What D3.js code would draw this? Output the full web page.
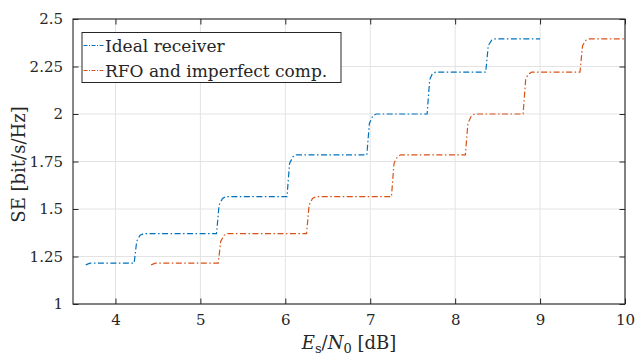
<!DOCTYPE html>
<html>
<head>
<meta charset="utf-8">
<script src="https://cdn.jsdelivr.net/npm/d3@7"></script>
<style>
  body { margin: 0; background: #fff; }
</style>
</head>
<body>
<div class="SignalGraph"></div>
<script>
// tick values
const xTicks = [4, 5, 6, 7, 8, 9, 10];
const yTicks = [1, 1.25, 1.5, 1.75, 2, 2.25, 2.5];

// Ideal receiver
const idealX = [3.65, 3.70, 4.22, 4.25, 4.29, 4.33, 5.19, 5.22, 5.26, 5.30, 6.02, 6.05, 6.09, 6.13,
  6.96, 6.99, 7.03, 7.07, 7.67, 7.70, 7.73, 7.77, 8.36, 8.39, 8.43, 8.47, 9.0];
const idealY = [1.206, 1.215, 1.215, 1.33, 1.362, 1.37, 1.37, 1.52, 1.556, 1.565, 1.565, 1.74, 1.775, 1.785,
  1.785, 1.95, 1.99, 2.0, 2.0, 2.18, 2.21, 2.22, 2.22, 2.36, 2.388, 2.395, 2.395];

// RFO and imperfect compensation
const rfoX = [4.42, 4.47, 5.21, 5.24, 5.28, 5.32, 6.25, 6.28, 6.32, 6.36, 7.25, 7.28, 7.32, 7.36,
  8.12, 8.15, 8.19, 8.23, 8.80, 8.83, 8.86, 8.90, 9.47, 9.50, 9.54, 9.58, 10.0];
const rfoY = [1.206, 1.215, 1.215, 1.33, 1.362, 1.37, 1.37, 1.52, 1.556, 1.565, 1.565, 1.74, 1.775, 1.785,
  1.785, 1.95, 1.99, 2.0, 2.0, 2.18, 2.21, 2.22, 2.22, 2.36, 2.388, 2.395, 2.395];

const seriesNames = ["Ideal receiver", "RFO and imperfect comp."];
const colors = ["#0072BD", "#D95319"];

const FONT = "DejaVu Serif";

let margin = { top: 19, right: 11, bottom: 52, left: 73 },
  width = 636 - margin.left - margin.right,
  height = 356 - margin.top - margin.bottom;

let svg = d3
  .select(".SignalGraph")
  .append("svg")
  .attr("width", 636)
  .attr("height", 356)
  .append("g")
  .attr("transform", "translate(" + margin.left + "," + margin.top + ")");

let x = d3.scaleLinear().domain([3.5, 10]).range([0, width]);
let y = d3.scaleLinear().domain([1, 2.5]).range([height, 0]);

// grid
svg.append("g")
  .selectAll("line")
  .data(xTicks)
  .join("line")
  .attr("x1", (d) => x(d)).attr("x2", (d) => x(d))
  .attr("y1", 0).attr("y2", height)
  .attr("stroke", "#e3e3e3");
svg.append("g")
  .selectAll("line")
  .data(yTicks)
  .join("line")
  .attr("x1", 0).attr("x2", width)
  .attr("y1", (d) => y(d)).attr("y2", (d) => y(d))
  .attr("stroke", "#e3e3e3");

// lines
const line = d3.line().x((d) => x(d[0])).y((d) => y(d[1]));
const series = [
  idealX.map((v, i) => [v, idealY[i]]),
  rfoX.map((v, i) => [v, rfoY[i]]),
];
series.forEach((s, i) => {
  svg.append("path")
    .datum(s)
    .attr("fill", "none")
    .attr("stroke", colors[i])
    .attr("stroke-width", 1.2)
    .attr("stroke-dasharray", "6,2.5,1.5,2.5")
    .attr("d", line);
});

// axes (ticks inward, box on)
const tl = 5.5;
svg.append("g")
  .attr("transform", "translate(0," + height + ")")
  .call(d3.axisBottom(x).tickValues(xTicks).tickFormat(d3.format("d")).tickSizeInner(-tl).tickSizeOuter(0).tickPadding(10))
  .call((g) => g.select(".domain").remove());
svg.append("g")
  .call(d3.axisTop(x).tickValues(xTicks).tickFormat("").tickSizeInner(-tl).tickSizeOuter(0))
  .call((g) => g.select(".domain").remove());
svg.append("g")
  .call(d3.axisLeft(y).tickValues(yTicks).tickFormat((d) => String(d)).tickSizeInner(-tl).tickSizeOuter(0).tickPadding(10))
  .call((g) => g.select(".domain").remove());
svg.append("g")
  .attr("transform", "translate(" + width + ",0)")
  .call(d3.axisRight(y).tickValues(yTicks).tickFormat("").tickSizeInner(-tl).tickSizeOuter(0))
  .call((g) => g.select(".domain").remove());
svg.selectAll("g").attr("font-family", FONT);
svg.selectAll(".tick line").attr("stroke", "#262626");
svg.selectAll(".tick text")
  .attr("font-size", 15)
  .attr("fill", "#262626");

svg.append("rect")
  .attr("width", width).attr("height", height)
  .attr("fill", "none").attr("stroke", "#262626").attr("stroke-width", 1.1);

// labels
const xl = svg.append("text")
  .attr("x", width / 2).attr("y", height + 45)
  .attr("text-anchor", "middle")
  .attr("font-family", FONT)
  .attr("font-size", 18)
  .attr("fill", "#262626");
xl.append("tspan").attr("font-style", "italic").text("E");
xl.append("tspan").attr("dy", 4).attr("font-size", 13).text("s");
xl.append("tspan").attr("dy", -4).text("/");
xl.append("tspan").attr("font-style", "italic").text("N");
xl.append("tspan").attr("dy", 4).attr("font-size", 13).text("0");
xl.append("tspan").attr("dy", -4).text("\u00a0[dB]");

svg.append("text")
  .attr("transform", "translate(" + (-48) + "," + (height / 2 + 3) + ") rotate(-90)")
  .attr("text-anchor", "middle")
  .attr("font-family", FONT)
  .attr("font-size", 18)
  .attr("fill", "#262626")
  .text("SE [bit/s/Hz]");

// legend
const lg = svg.append("g").attr("transform", "translate(" + (82 - margin.left) + "," + (32.5 - margin.top) + ")");
lg.append("rect")
  .attr("width", 259).attr("height", 50)
  .attr("fill", "#fff").attr("stroke", "#262626").attr("stroke-width", 1);
seriesNames.forEach((name, i) => {
  const yy = 13 + i * 25;
  lg.append("line")
    .attr("x1", 1.5).attr("x2", 21.5).attr("y1", yy).attr("y2", yy)
    .attr("stroke", colors[i]).attr("stroke-width", 1.2)
    .attr("stroke-dasharray", "4,1.5,1,1.5");
  lg.append("text")
    .attr("x", 23).attr("y", yy + 6)
    .attr("font-family", FONT)
    .attr("font-size", 17)
    .attr("fill", "#262626")
    .text(name);
});
</script>
</body>
</html>
